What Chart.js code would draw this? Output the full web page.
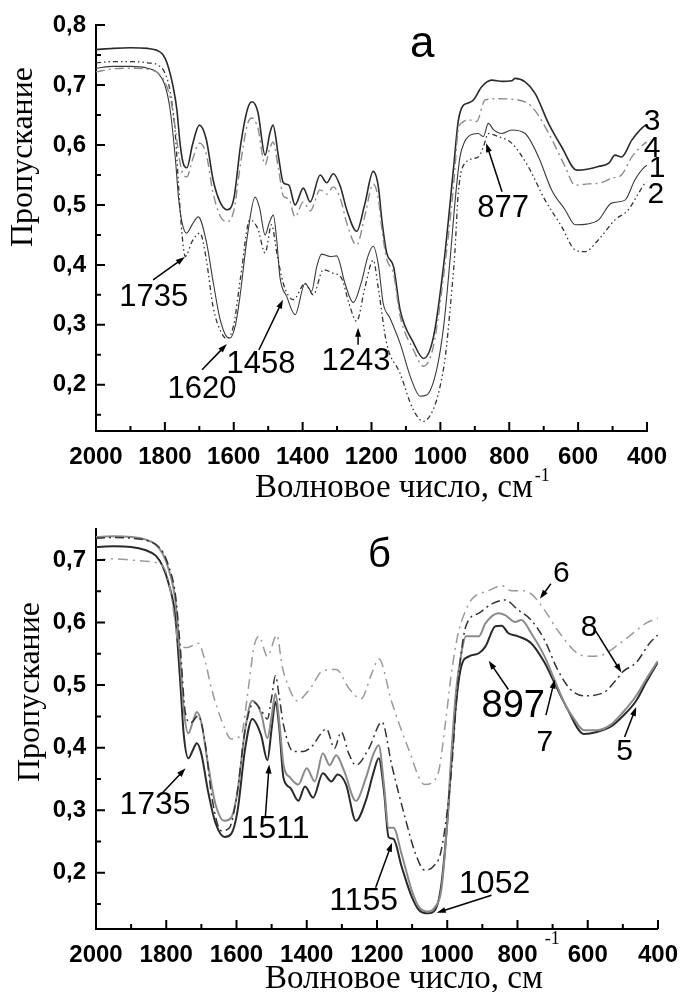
<!DOCTYPE html>
<html>
<head>
<meta charset="utf-8">
<script src="https://cdn.jsdelivr.net/npm/chart.js@4.4.0/dist/chart.umd.min.js"></script>
<style>
  body { margin: 0; background: #fff; width: 690px; height: 992px; overflow: hidden; position: relative; }
  canvas { position: absolute; left: 0; }
  #chartA { top: 0; width: 690px; height: 505px; }
  #chartB { top: 505px; width: 690px; height: 487px; }
</style>
</head>
<body>
<canvas id="chartA" width="690" height="505"></canvas>
<canvas id="chartB" width="690" height="487"></canvas>
<script>
// ---- axis ticks ----
const xTicks = [2000, 1800, 1600, 1400, 1200, 1000, 800, 600, 400];
const xMinor = [1900, 1700, 1500, 1300, 1100, 900, 700, 500];
const yTicksA = [0.2, 0.3, 0.4, 0.5, 0.6, 0.7, 0.8];
const yMinorA = [0.15, 0.25, 0.35, 0.45, 0.55, 0.65, 0.75];
const yTicksB = [0.2, 0.3, 0.4, 0.5, 0.6, 0.7];
const yMinorB = [0.15, 0.25, 0.35, 0.45, 0.55, 0.65];

// ---- panel a ----
const wn3 = [2000, 1950, 1900, 1850, 1820, 1805, 1794, 1776, 1765, 1756, 1747, 1736, 1720, 1700, 1680, 1660, 1640, 1620, 1600, 1580, 1560, 1547, 1530, 1509, 1495, 1486, 1470, 1456, 1440, 1422, 1398, 1378, 1349, 1330, 1311, 1290, 1272, 1243, 1220, 1195, 1180, 1170, 1156, 1136, 1117, 1078, 1049, 1020, 991, 962, 948, 935, 919, 904, 880, 851, 820, 793, 783, 754, 725, 686, 648, 604, 570, 541, 510, 493, 474, 444, 411, 400];
const t3 = [0.759, 0.761, 0.762, 0.761, 0.757, 0.75, 0.737, 0.697, 0.658, 0.603, 0.57, 0.562, 0.6, 0.633, 0.61, 0.542, 0.505, 0.492, 0.51, 0.6, 0.66, 0.672, 0.655, 0.583, 0.62, 0.633, 0.58, 0.537, 0.533, 0.5, 0.528, 0.505, 0.55, 0.537, 0.552, 0.53, 0.492, 0.456, 0.5, 0.556, 0.53, 0.475, 0.42, 0.397, 0.325, 0.27, 0.244, 0.28, 0.397, 0.56, 0.64, 0.665, 0.67, 0.675, 0.697, 0.708, 0.706, 0.707, 0.711, 0.705, 0.686, 0.636, 0.597, 0.558, 0.56, 0.564, 0.57, 0.583, 0.58, 0.608, 0.63, 0.634];

const wn4 = [2000, 1950, 1900, 1850, 1820, 1800, 1785, 1770, 1760, 1750, 1736, 1720, 1700, 1680, 1660, 1640, 1620, 1600, 1580, 1560, 1547, 1530, 1509, 1495, 1486, 1470, 1456, 1440, 1422, 1398, 1378, 1349, 1330, 1311, 1290, 1272, 1243, 1220, 1195, 1180, 1170, 1156, 1136, 1117, 1078, 1049, 1020, 991, 962, 948, 935, 919, 895, 870, 832, 774, 735, 686, 638, 609, 570, 541, 500, 474, 444, 406, 400];
const t4 = [0.722, 0.727, 0.728, 0.726, 0.72, 0.705, 0.68, 0.63, 0.585, 0.555, 0.547, 0.575, 0.603, 0.585, 0.52, 0.482, 0.472, 0.49, 0.57, 0.635, 0.645, 0.628, 0.567, 0.595, 0.605, 0.56, 0.515, 0.51, 0.48, 0.505, 0.49, 0.525, 0.518, 0.53, 0.51, 0.47, 0.433, 0.48, 0.535, 0.51, 0.46, 0.41, 0.385, 0.315, 0.258, 0.231, 0.265, 0.38, 0.53, 0.625, 0.638, 0.642, 0.639, 0.675, 0.677, 0.675, 0.664, 0.62, 0.564, 0.533, 0.535, 0.536, 0.545, 0.55, 0.58, 0.603, 0.605];

const wn1 = [2000, 1950, 1900, 1850, 1820, 1800, 1785, 1770, 1760, 1750, 1737, 1720, 1703, 1680, 1659, 1640, 1620, 1611, 1595, 1582, 1560, 1538, 1525, 1509, 1497, 1485, 1475, 1466, 1446, 1422, 1393, 1374, 1359, 1345, 1320, 1301, 1277, 1253, 1230, 1210, 1195, 1180, 1166, 1146, 1117, 1085, 1059, 1040, 1011, 990, 972, 955, 943, 930, 919, 890, 875, 861, 845, 822, 793, 754, 715, 677, 638, 609, 575, 541, 503, 464, 435, 406, 400];
const t1 = [0.728, 0.731, 0.731, 0.728, 0.72, 0.7, 0.66, 0.58, 0.51, 0.47, 0.453, 0.468, 0.48, 0.44, 0.369, 0.31, 0.28, 0.278, 0.3, 0.347, 0.45, 0.513, 0.495, 0.45, 0.47, 0.483, 0.44, 0.38, 0.347, 0.317, 0.369, 0.356, 0.397, 0.418, 0.414, 0.415, 0.369, 0.337, 0.37, 0.415, 0.431, 0.4, 0.336, 0.311, 0.269, 0.21, 0.181, 0.183, 0.225, 0.3, 0.408, 0.52, 0.58, 0.605, 0.614, 0.619, 0.614, 0.636, 0.625, 0.619, 0.625, 0.619, 0.58, 0.525, 0.492, 0.467, 0.468, 0.475, 0.503, 0.508, 0.542, 0.564, 0.566];

const wn2 = [2000, 1950, 1900, 1850, 1820, 1800, 1785, 1770, 1760, 1750, 1741, 1720, 1698, 1680, 1660, 1635, 1620, 1600, 1580, 1553, 1530, 1509, 1490, 1475, 1456, 1427, 1393, 1369, 1340, 1311, 1287, 1265, 1243, 1220, 1195, 1180, 1156, 1117, 1080, 1049, 1020, 1001, 985, 972, 958, 948, 928, 890, 875, 861, 832, 793, 745, 696, 648, 609, 580, 541, 493, 454, 425, 406, 400];
const t2 = [0.737, 0.739, 0.739, 0.737, 0.733, 0.72, 0.69, 0.62, 0.53, 0.45, 0.414, 0.44, 0.453, 0.41, 0.33, 0.286, 0.277, 0.3, 0.38, 0.475, 0.46, 0.42, 0.467, 0.42, 0.369, 0.342, 0.369, 0.35, 0.392, 0.386, 0.378, 0.335, 0.306, 0.36, 0.408, 0.36, 0.269, 0.219, 0.16, 0.139, 0.16, 0.197, 0.25, 0.325, 0.42, 0.52, 0.57, 0.58, 0.597, 0.619, 0.614, 0.603, 0.564, 0.508, 0.464, 0.425, 0.422, 0.442, 0.475, 0.492, 0.519, 0.536, 0.538];

// ---- panel b ----
const wn5 = [2000, 1950, 1900, 1860, 1830, 1810, 1793, 1774, 1760, 1750, 1737, 1725, 1713, 1700, 1681, 1660, 1634, 1615, 1597, 1575, 1555, 1530, 1512, 1500, 1489, 1478, 1466, 1447, 1424, 1405, 1382, 1354, 1330, 1312, 1288, 1260, 1232, 1210, 1195, 1180, 1167, 1153, 1130, 1100, 1080, 1055, 1035, 1017, 1000, 989, 975, 960, 938, 910, 891, 863, 845, 826, 798, 761, 723, 695, 658, 611, 574, 536, 499, 462, 434, 401];
const t5 = [0.721, 0.722, 0.721, 0.716, 0.707, 0.69, 0.662, 0.609, 0.504, 0.42, 0.383, 0.395, 0.407, 0.39, 0.33, 0.28, 0.257, 0.262, 0.299, 0.4, 0.446, 0.42, 0.38, 0.43, 0.473, 0.43, 0.351, 0.336, 0.315, 0.338, 0.32, 0.359, 0.346, 0.357, 0.341, 0.283, 0.315, 0.36, 0.383, 0.33, 0.257, 0.254, 0.21, 0.16, 0.14, 0.135, 0.14, 0.18, 0.28, 0.37, 0.47, 0.53, 0.546, 0.551, 0.562, 0.594, 0.595, 0.583, 0.578, 0.567, 0.536, 0.504, 0.462, 0.422, 0.425, 0.433, 0.451, 0.475, 0.504, 0.536];

const wn7 = [2000, 1950, 1900, 1860, 1830, 1810, 1793, 1774, 1760, 1750, 1737, 1725, 1713, 1700, 1681, 1660, 1634, 1615, 1597, 1575, 1555, 1530, 1512, 1500, 1489, 1478, 1466, 1447, 1424, 1400, 1377, 1354, 1335, 1316, 1293, 1260, 1232, 1210, 1195, 1180, 1167, 1153, 1130, 1100, 1080, 1055, 1035, 1017, 1000, 989, 975, 960, 947, 910, 891, 854, 835, 807, 789, 761, 723, 695, 667, 639, 611, 574, 536, 499, 462, 434, 401];
const t7 = [0.737, 0.738, 0.737, 0.733, 0.725, 0.71, 0.685, 0.635, 0.54, 0.46, 0.423, 0.44, 0.457, 0.44, 0.373, 0.31, 0.283, 0.288, 0.33, 0.43, 0.475, 0.455, 0.415, 0.45, 0.486, 0.44, 0.372, 0.352, 0.341, 0.367, 0.346, 0.391, 0.372, 0.388, 0.362, 0.315, 0.351, 0.39, 0.404, 0.34, 0.272, 0.272, 0.23, 0.17, 0.145, 0.138, 0.145, 0.172, 0.28, 0.383, 0.49, 0.55, 0.578, 0.578, 0.599, 0.615, 0.612, 0.601, 0.604, 0.583, 0.546, 0.509, 0.472, 0.446, 0.428, 0.428, 0.436, 0.457, 0.483, 0.509, 0.538];

const wn8 = [2000, 1950, 1900, 1860, 1830, 1810, 1793, 1774, 1760, 1746, 1730, 1709, 1690, 1670, 1643, 1620, 1600, 1575, 1550, 1530, 1512, 1500, 1489, 1478, 1466, 1438, 1410, 1382, 1363, 1344, 1321, 1302, 1280, 1260, 1223, 1186, 1158, 1120, 1090, 1064, 1040, 1017, 989, 970, 947, 910, 873, 835, 798, 761, 723, 686, 649, 611, 555, 518, 499, 462, 424, 401];
const t8 = [0.735, 0.736, 0.735, 0.732, 0.725, 0.713, 0.69, 0.645, 0.56, 0.457, 0.44, 0.451, 0.41, 0.32, 0.267, 0.272, 0.32, 0.43, 0.472, 0.46, 0.446, 0.48, 0.515, 0.48, 0.436, 0.394, 0.394, 0.404, 0.42, 0.43, 0.399, 0.425, 0.39, 0.372, 0.399, 0.441, 0.372, 0.288, 0.23, 0.204, 0.21, 0.236, 0.357, 0.5, 0.594, 0.615, 0.63, 0.636, 0.62, 0.604, 0.572, 0.525, 0.493, 0.483, 0.488, 0.509, 0.522, 0.536, 0.567, 0.58];

const wn6 = [2000, 1950, 1900, 1860, 1821, 1800, 1785, 1775, 1765, 1740, 1709, 1690, 1671, 1640, 1615, 1587, 1565, 1550, 1536, 1512, 1485, 1470, 1456, 1428, 1391, 1354, 1316, 1279, 1246, 1214, 1195, 1158, 1111, 1064, 1027, 1005, 989, 970, 947, 929, 882, 845, 817, 789, 761, 723, 686, 630, 592, 555, 508, 471, 434, 401];
const t6 = [0.7, 0.702, 0.7, 0.698, 0.694, 0.68, 0.64, 0.6, 0.565, 0.56, 0.567, 0.54, 0.494, 0.44, 0.414, 0.42, 0.5, 0.562, 0.578, 0.546, 0.58, 0.53, 0.504, 0.475, 0.494, 0.523, 0.525, 0.494, 0.478, 0.52, 0.542, 0.473, 0.399, 0.341, 0.357, 0.44, 0.515, 0.58, 0.62, 0.638, 0.651, 0.659, 0.651, 0.651, 0.646, 0.62, 0.588, 0.551, 0.546, 0.549, 0.567, 0.583, 0.599, 0.607];

const pts = (wn, t) => wn.map((x, i) => ({ x: x, y: t[i] }));
const comma = v => v.toFixed(1).replace('.', ',');

// ticks pointing inside, labels, arrows and titles
const decor = {
  id: 'decor',
  afterDraw(chart, args, opts) {
    const ctx = chart.ctx;
    const xs = chart.scales.x;
    const ys = chart.scales.y;
    const a = chart.chartArea;
    ctx.save();
    ctx.strokeStyle = '#000';
    ctx.fillStyle = '#000';
    ctx.lineWidth = 2;
    ctx.beginPath();
    xTicks.forEach(v => { const p = xs.getPixelForValue(v); ctx.moveTo(p, a.bottom); ctx.lineTo(p, a.bottom - 9); });
    xMinor.forEach(v => { const p = xs.getPixelForValue(v); ctx.moveTo(p, a.bottom); ctx.lineTo(p, a.bottom - 5); });
    opts.yTicks.forEach(v => { const p = ys.getPixelForValue(v); ctx.moveTo(a.left, p); ctx.lineTo(a.left + 9, p); });
    opts.yMinor.forEach(v => { const p = ys.getPixelForValue(v); ctx.moveTo(a.left, p); ctx.lineTo(a.left + 5, p); });
    ctx.stroke();

    ctx.lineWidth = 1.5;
    opts.arrows.forEach(ar => {
      const x1 = xs.getPixelForValue(ar[0]), y1 = ys.getPixelForValue(ar[1]);
      const x2 = xs.getPixelForValue(ar[2]), y2 = ys.getPixelForValue(ar[3]);
      const ang = Math.atan2(y2 - y1, x2 - x1);
      ctx.beginPath();
      ctx.moveTo(x1, y1);
      ctx.lineTo(x2 - 6 * Math.cos(ang), y2 - 6 * Math.sin(ang));
      ctx.stroke();
      ctx.beginPath();
      ctx.moveTo(x2, y2);
      ctx.lineTo(x2 - 9 * Math.cos(ang) + 3 * Math.sin(ang), y2 - 9 * Math.sin(ang) - 3 * Math.cos(ang));
      ctx.lineTo(x2 - 9 * Math.cos(ang) - 3 * Math.sin(ang), y2 - 9 * Math.sin(ang) + 3 * Math.cos(ang));
      ctx.closePath();
      ctx.fill();
    });

    ctx.textAlign = 'center';
    ctx.textBaseline = 'alphabetic';
    opts.notes.forEach(n => {
      ctx.font = n[3] + 'px "Liberation Sans", Arial, sans-serif';
      ctx.fillText(n[0], xs.getPixelForValue(n[1]), ys.getPixelForValue(n[2]));
    });

    // axis titles
    ctx.font = '33px "Liberation Serif", "Times New Roman", serif';
    ctx.textAlign = 'left';
    ctx.fillText('Волновое число, см', opts.xTitle[0], opts.xTitle[1]);
    const w = ctx.measureText('Волновое число, см').width;
    ctx.font = '18px "Liberation Serif", "Times New Roman", serif';
    ctx.fillText('-1', opts.xTitle[0] + w + 2, opts.xTitle[1] - opts.xTitle[2]);
    ctx.font = '32px "Liberation Serif", "Times New Roman", serif';
    ctx.translate(opts.yTitle[0], opts.yTitle[1]);
    ctx.rotate(-Math.PI / 2);
    ctx.textAlign = 'center';
    ctx.fillText('Пропускание', 0, 0);
    ctx.restore();
  }
};

function makeChart(id, sets, yMin, yMax, yTicks, padRight, padTop, xHeight, decorOpts) {
  return new Chart(document.getElementById(id), {
    type: 'line',
    data: { datasets: sets },
    options: {
      responsive: false,
      animation: false,
      layout: { padding: { left: 0, right: padRight, top: padTop, bottom: 0 } },
      elements: { point: { radius: 0 }, line: { cubicInterpolationMode: 'monotone' } },
      plugins: { legend: { display: false }, tooltip: { enabled: false }, decor: decorOpts },
      scales: {
        x: {
          type: 'linear', reverse: true, min: 400, max: 2000,
          grid: { display: false, drawTicks: false },
          border: { display: true, color: '#000', width: 2 },
          afterBuildTicks: s => { s.ticks = xTicks.map(v => ({ value: v })); },
          afterFit: s => { s.height = xHeight; },
          ticks: { color: '#000', padding: 12, maxRotation: 0, autoSkip: false, callback: v => String(v),
                   font: { family: '"Liberation Sans", Arial, sans-serif', size: 24, weight: 'bold' } }
        },
        y: {
          min: yMin, max: yMax,
          grid: { display: false, drawTicks: false },
          border: { display: true, color: '#000', width: 2 },
          afterBuildTicks: s => { s.ticks = yTicks.map(v => ({ value: v })); },
          afterFit: s => { s.width = 96; },
          ticks: { color: '#000', padding: 10, callback: v => comma(v),
                   font: { family: '"Liberation Sans", Arial, sans-serif', size: 24, weight: 'bold' } }
        }
      }
    },
    plugins: [decor]
  });
}

const line = (data, color, width, dash) => ({ data: data, borderColor: color, borderWidth: width, borderDash: dash, fill: false });

makeChart('chartA', [
  line(pts(wn4, t4), '#8a8a8a', 1.4, [9, 4, 2, 4]),
  line(pts(wn2, t2), '#333', 1.3, [5, 3, 1.5, 3, 1.5, 3]),
  line(pts(wn1, t1), '#3a3a3a', 1.1, []),
  line(pts(wn3, t3), '#2a2a2a', 1.6, [])
], 0.123, 0.8, yTicksA, 43, 25, 74, {
  yTicks: yTicksA, yMinor: yMinorA,
  notes: [
    ['а', 1053, 0.747, 44],
    ['1735', 1832, 0.332, 31], ['1620', 1692, 0.178, 31], ['1458', 1521, 0.22, 31],
    ['1243', 1245, 0.225, 31], ['877', 818, 0.48, 31],
    ['3', 385, 0.625, 30], ['4', 385, 0.58, 30], ['1', 371, 0.547, 30], ['2', 374, 0.503, 30]
  ],
  arrows: [
    [1834, 0.375, 1742, 0.413], [1692, 0.225, 1620, 0.268], [1527, 0.258, 1457, 0.342],
    [1239, 0.267, 1239, 0.295], [821, 0.522, 867, 0.603]
  ],
  xTitle: [255, 497, 16], yTitle: [32, 157]
});

makeChart('chartB', [
  line(pts(wn6, t6), '#9a9a9a', 1.5, [10, 5, 2, 5]),
  line(pts(wn8, t8), '#333', 1.5, [9, 4, 2, 4]),
  line(pts(wn7, t7), '#8a8a8a', 2, []),
  line(pts(wn5, t5), '#2a2a2a', 2, [])
], 0.11, 0.749, yTicksB, 23, 20, 63, {
  yTicks: yTicksB, yMinor: yMinorB,
  notes: [
    ['б', 1193, 0.689, 40],
    ['1735', 1832, 0.294, 32], ['1511', 1490, 0.256, 32], ['1155', 1238, 0.141, 32],
    ['1052', 865, 0.168, 32], ['897', 812, 0.449, 38],
    ['7', 722, 0.394, 30], ['6', 675, 0.665, 30], ['8', 596, 0.578, 30], ['5', 495, 0.381, 30]
  ],
  arrows: [
    [1812, 0.327, 1745, 0.367], [1518, 0.288, 1507, 0.373], [1204, 0.176, 1157, 0.248],
    [874, 0.164, 1030, 0.136], [826, 0.493, 882, 0.539], [719, 0.452, 694, 0.509],
    [705, 0.662, 736, 0.638], [579, 0.588, 504, 0.52], [495, 0.417, 462, 0.465]
  ],
  xTitle: [265, 483, 44], yTitle: [39, 187]
});
</script>
</body>
</html>
